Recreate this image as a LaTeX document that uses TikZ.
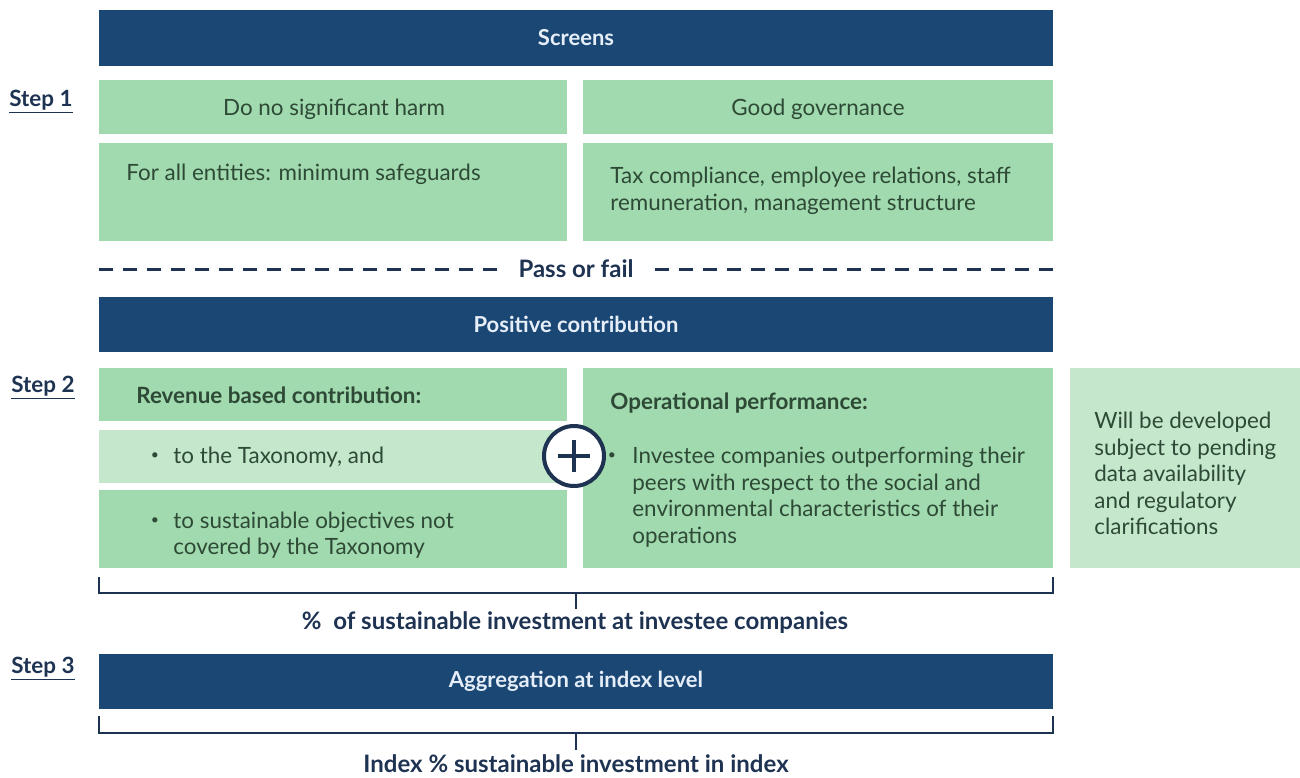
\documentclass[tikz,border=0pt]{standalone}
\usepackage{fontspec}
\setmainfont{Lato}
\usetikzlibrary{positioning}

\definecolor{navy}{HTML}{1B4775}
\definecolor{inknavy}{HTML}{1E3352}
\definecolor{leaf}{HTML}{A0DAAE}
\definecolor{paleleaf}{HTML}{C5E8CD}
\definecolor{leafink}{HTML}{2E4A36}
\definecolor{barink}{HTML}{E6EEF8}

\tikzset{
  navybar/.style={fill=navy, text=barink, font=\fontsize{11}{12}\selectfont\bfseries,
    minimum width=477pt, minimum height=28pt, inner sep=0pt},
  leafbox/.style={fill=leaf, minimum width=234pt, inner sep=0pt},
  paleleafbox/.style={fill=paleleaf, minimum width=234pt, inner sep=0pt},
  boxtext/.style={text=leafink, font=\fontsize{11.2}{13.3}\selectfont, align=left, inner sep=0pt},
  boxdot/.style={text=leafink, font=\fontsize{7}{8}\selectfont, inner sep=0pt},
  steplabel/.style={text=inknavy, font=\fontsize{11.2}{12}\selectfont\bfseries, inner sep=0pt},
  bracket/.style={draw=inknavy, line width=1pt},
  sumtext/.style={text=inknavy, font=\fontsize{12}{13}\selectfont\bfseries, inner sep=0pt},
}

\begin{document}
\begin{tikzpicture}[x=0.5pt, y=-0.5pt]
\useasboundingbox (0,0) rectangle (1300,777);

% step 1 : screens
\node[navybar] (screens) at (576,38) {Screens};
\node[steplabel] (step1) at (41,102) {\underline{Step 1}};
\node[leafbox, minimum height=27pt] (dnsh) at (333,107) {};
\node[boxtext] (dnshtext) at (334,109) {Do no significant harm};
\node[leafbox, minimum width=235pt, minimum height=27pt] (gov) at (818,107) {};
\node[boxtext] (govtext) at (818,109) {Good governance};
\node[leafbox, minimum height=49pt] (safe) at (333,192) {};
\node[boxtext, anchor=west] (safetext) at (126,174) {For all entities: minimum safeguards};
\node[leafbox, minimum width=235pt, minimum height=49pt] (tax) at (818,192) {};
\node[boxtext, anchor=west] (taxtext) at (610,190.5) {Tax compliance, employee relations, staff\\remuneration, management structure};

% pass or fail
\node[text=inknavy, font=\fontsize{12}{13}\selectfont\bfseries, inner sep=0pt] (pass) at (576,269) {Pass or fail};
\coordinate (dashl) at (99,269);
\coordinate (dashr) at (1053,269);
\draw[inknavy, line width=1.5pt, dash pattern=on 7pt off 5pt] (dashl) -- ([xshift=-6pt]pass.west);
\draw[inknavy, line width=1.5pt, dash pattern=on 7pt off 5pt] (dashr) -- ([xshift=6pt]pass.east);

% step 2 : positive contribution
\node[navybar, minimum height=27.5pt] (positive) at (576,324.5) {Positive contribution};
\node[steplabel] (step2) at (43,388) {\underline{Step 2}};
\node[leafbox, minimum height=26.5pt] (revenue) at (333,394.5) {};
\node[boxtext, font=\fontsize{11.2}{13.3}\selectfont\bfseries] (revtext) at (136,395) [anchor=west] {Revenue based contribution:};
\node[paleleafbox, minimum height=26.5pt] (taxo) at (333,456.5) {};
\node[boxtext, anchor=west] (taxotext) at (173,457) {to the Taxonomy, and};
\node[boxdot] (taxodot) at (155,456) {\textbullet};
\node[leafbox, minimum height=39pt] (sust) at (333,529) {};
\node[boxtext, anchor=west] (susttext) at (173,535) {to sustainable objectives not\\covered by the Taxonomy};
\node[boxdot] (sustdot) at (155,521) {\textbullet};
\node[leafbox, minimum width=235pt, minimum height=100pt] (ops) at (818,468) {};
\node[boxtext, font=\fontsize{11.2}{13.3}\selectfont\bfseries, anchor=west] (opstitle) at (610,403) {Operational performance:};
\node[boxtext, anchor=west] (opstext) at (632,497) {Investee companies outperforming their\\peers with respect to the social and\\environmental characteristics of their\\operations};
\node[boxdot] (opsdot) at (612,456) {\textbullet};
\node[paleleafbox, minimum width=115pt, minimum height=100pt] (pending) at (1185,468) {};
\node[boxtext, anchor=west] (pendtext) at (1094,473.5) {Will be developed\\subject to pending\\data availability\\and regulatory\\clarifications};

% plus sign
\node[circle, draw=inknavy, fill=white, line width=2pt, minimum size=30pt, inner sep=0pt] (plus) at (574,456) {};
\draw[inknavy, line width=2.2pt] ([xshift=-8pt]plus.center) -- ([xshift=8pt]plus.center);
\draw[inknavy, line width=2.2pt] ([yshift=-8pt]plus.center) -- ([yshift=8pt]plus.center);

% bracket 1
\node[sumtext] (share) at (575,623) {\%\ \ of sustainable investment at investee companies};
\coordinate (brk1) at (576,593);
\coordinate (tick1) at (576,609);
\draw[bracket] ([yshift=-4.5pt]sust.south west) -- ++(0,-8pt) -| ([yshift=-4.5pt]ops.south east);
\draw[bracket] (brk1) -- (tick1);

% step 3 : aggregation
\node[navybar, minimum height=27.5pt] (aggregation) at (576,681.5) {Aggregation at index level};
\node[steplabel] (step3) at (43,669) {\underline{Step 3}};

% bracket 2
\node[sumtext] (index) at (576,764) {Index \% sustainable investment in index};
\coordinate (brk2) at (576,733);
\coordinate (tick2) at (576,750);
\draw[bracket] ([yshift=-3.5pt]aggregation.south west) -- ++(0,-8.5pt) -| ([yshift=-3.5pt]aggregation.south east);
\draw[bracket] (brk2) -- (tick2);
\end{tikzpicture}
\end{document}
